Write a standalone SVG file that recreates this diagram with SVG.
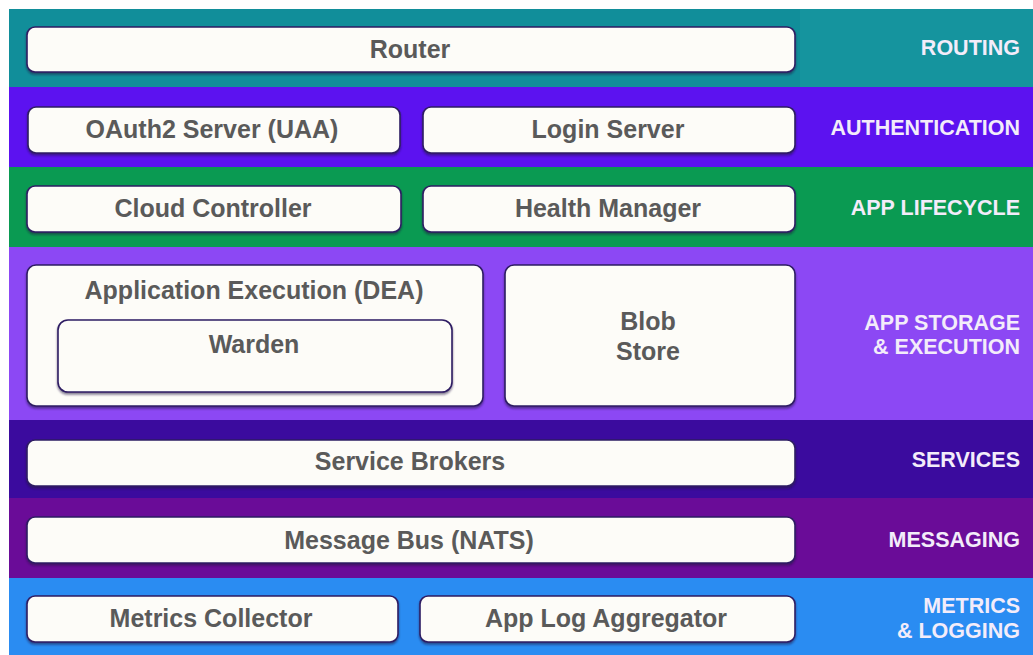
<svg xmlns="http://www.w3.org/2000/svg" width="1033" height="655" viewBox="0 0 1033 655">
<defs>
<filter id="sh" x="-5%" y="-20%" width="110%" height="150%">
<feDropShadow dx="0" dy="2" stdDeviation="1.2" flood-color="#1a0a40" flood-opacity="0.55"/>
</filter>
</defs>
<style>
.box{fill:#fdfcf8;stroke:#2e1d63;stroke-width:1.6;filter:url(#sh)}
.t{font-family:"Liberation Sans",Arial,sans-serif;font-weight:bold;font-size:25px;fill:#5a5a5a;text-anchor:middle}
.lab{font-family:"Liberation Sans",Arial,sans-serif;font-weight:bold;font-size:21.5px;fill:#f3ecfa;text-anchor:end}
</style>
<rect x="0" y="0" width="1033" height="655" fill="#ffffff"/>
<g id="bands">
<rect x="9" y="9" width="1024" height="78" fill="#118e9a"/>
<rect x="800" y="9" width="233" height="78" fill="#15949e"/>
<rect x="9" y="87" width="1024" height="80" fill="#5c12f0"/>
<rect x="9" y="167" width="1024" height="80" fill="#0a9a52"/>
<rect x="9" y="247" width="1024" height="173" fill="#8c48f4"/>
<rect x="9" y="420" width="1024" height="78" fill="#3b0b9e"/>
<rect x="9" y="498" width="1024" height="80" fill="#6a0c98"/>
<rect x="9" y="578" width="1024" height="77" fill="#2a8cf2"/>
</g>
<g id="labels">
<text class="lab" x="1020" y="55">ROUTING</text>
<text class="lab" x="1020" y="135">AUTHENTICATION</text>
<text class="lab" x="1020" y="215">APP LIFECYCLE</text>
<text class="lab" x="1020" y="330">APP STORAGE</text>
<text class="lab" x="1020" y="354">&amp; EXECUTION</text>
<text class="lab" x="1020" y="467">SERVICES</text>
<text class="lab" x="1020" y="547">MESSAGING</text>
<text class="lab" x="1020" y="613">METRICS</text>
<text class="lab" x="1020" y="638">&amp; LOGGING</text>
</g>
<g id="router"><rect class="box" x="27" y="27" width="768" height="45" rx="8"/><text class="t" x="410" y="58">Router</text></g>
<g id="oauth"><rect class="box" x="28" y="107" width="372" height="46" rx="8"/><text class="t" x="212" y="138">OAuth2 Server (UAA)</text></g>
<g id="login"><rect class="box" x="423" y="107" width="372" height="46" rx="8"/><text class="t" x="608" y="138">Login Server</text></g>
<g id="cloudcontroller"><rect class="box" x="27" y="186" width="374" height="46" rx="8"/><text class="t" x="213" y="217">Cloud Controller</text></g>
<g id="healthmanager"><rect class="box" x="423" y="186" width="372" height="46" rx="8"/><text class="t" x="608" y="217">Health Manager</text></g>
<g id="dea"><rect class="box" x="27" y="265" width="456" height="141" rx="9"/><text class="t" x="254" y="299">Application Execution (DEA)</text>
<g id="warden"><rect class="box" x="58" y="320" width="394" height="72" rx="10"/><text class="t" x="254" y="353">Warden</text></g></g>
<g id="blobstore"><rect class="box" x="505" y="265" width="290" height="141" rx="9"/><text class="t" x="648" y="330">Blob</text><text class="t" x="648" y="360">Store</text></g>
<g id="servicebrokers"><rect class="box" x="27" y="440" width="768" height="46" rx="8"/><text class="t" x="410" y="470">Service Brokers</text></g>
<g id="messagebus"><rect class="box" x="27" y="517" width="768" height="46" rx="8"/><text class="t" x="409" y="549">Message Bus (NATS)</text></g>
<g id="metricscollector"><rect class="box" x="27" y="596" width="371" height="46" rx="8"/><text class="t" x="211" y="627">Metrics Collector</text></g>
<g id="applog"><rect class="box" x="420" y="596" width="375" height="46" rx="8"/><text class="t" x="606" y="627">App Log Aggregator</text></g>
<g id="connectors"/>
</svg>
